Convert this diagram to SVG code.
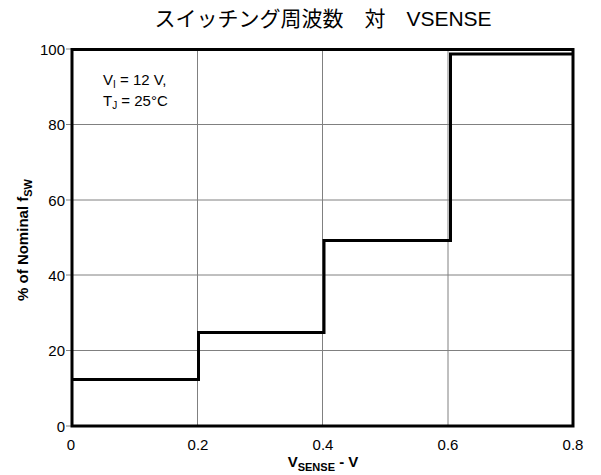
<svg xmlns="http://www.w3.org/2000/svg" width="601" height="475" viewBox="0 0 601 475">
<style>
text{font-family:"Liberation Sans","Noto Sans CJK JP",sans-serif;fill:#000}
.tick{font-size:15px}
.grid{stroke:#808080;stroke-width:1;fill:none}
.frame{stroke:#000;stroke-width:3;fill:none}
.curve{stroke:#000;stroke-width:3;fill:none;stroke-linejoin:miter}
.lab{font-size:15px;font-weight:bold}
</style>
<rect width="601" height="475" fill="#fff"/>
<g id="title"><text x="323" y="26" font-size="21" text-anchor="middle">スイッチング周波数　対　VSENSE</text></g>
<g id="grid">
<path class="grid" d="M197.5,49V426M322.5,49V426M448,49V426M72,124.5H573M72,200H573M72,275H573M72,350.5H573"/>
<path class="grid" stroke="#000" d="M66,49H72M66,124.5H72M66,200H72M66,275H72M66,350.5H72M66,426H72"/>
</g>
<g id="frame"><rect class="frame" x="72" y="49.5" width="501" height="376.5"/></g>
<g id="connectors"><path class="curve" d="M72,379.5H198.5V332.5H324V240.5H450.5V54H573"/></g>
<g id="ylabels" class="tick" text-anchor="end">
<text x="65" y="54.5">100</text>
<text x="65" y="130">80</text>
<text x="65" y="205.5">60</text>
<text x="65" y="280.5">40</text>
<text x="65" y="356">20</text>
<text x="65" y="431.5">0</text>
</g>
<g id="xlabels" class="tick" text-anchor="middle">
<text x="71" y="450">0</text>
<text x="198" y="450">0.2</text>
<text x="323" y="450">0.4</text>
<text x="448" y="450">0.6</text>
<text x="573" y="450">0.8</text>
</g>
<g id="xlabel"><text class="lab" x="323" y="467" text-anchor="middle">V<tspan font-size="11" dy="4">SENSE</tspan><tspan dy="-4"> - V</tspan></text></g>
<g id="ylabel"><text class="lab" transform="translate(28,240) rotate(-90)" text-anchor="middle">% of Nominal f<tspan font-size="11" dy="4">SW</tspan></text></g>
<g id="cond" font-size="15">
<text x="103" y="85" font-size="15">V<tspan font-size="10" dy="3">I</tspan><tspan dy="-3"> = 12 V,</tspan></text>
<text x="103" y="106" font-size="15">T<tspan font-size="10" dy="3">J</tspan><tspan dy="-3"> = 25°C</tspan></text>
</g>
</svg>
